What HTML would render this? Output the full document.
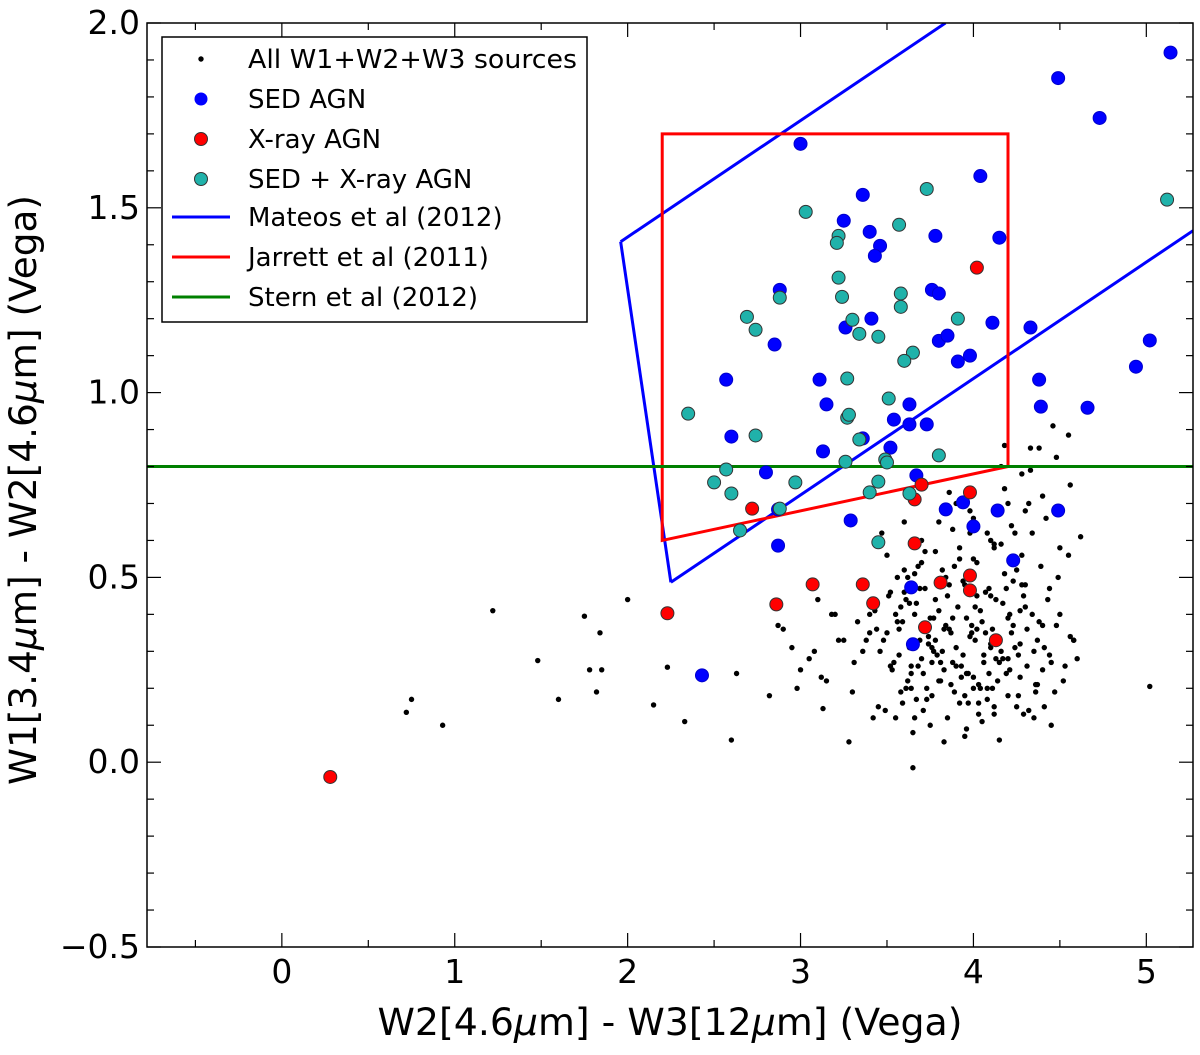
<!DOCTYPE html>
<html><head><meta charset="utf-8"><style>
body{margin:0;background:#fff;}
svg text{font-family:"DejaVu Sans","Liberation Sans",sans-serif;}
</style></head><body>
<svg id="chart" width="1200" height="1050" viewBox="0 0 1200 1050"></svg>
<script>
const allX=[1.22,1.75,1.84,2.0,1.48,1.78,1.85,1.82,1.6,0.75,0.72,0.93,2.15,2.33,2.23,2.6,2.63,2.82,3.13,3.28,3.42,3.65,3.83,5.02,4.55,4.48,4.62,4.46,4.18,4.33,
4.02,4.05,4.1,4.15,4.22,4.3,4.35,4.4,4.25,4.12,3.98,3.92,3.86,3.8,3.74,3.7,3.62,3.58,3.52,3.48,3.55,3.6,3.66,3.72,3.78,3.84,3.9,3.96,4.0,4.06,
4.11,4.17,4.23,4.28,4.34,4.39,4.44,4.5,4.56,4.6,4.52,4.47,4.41,4.36,4.31,4.27,4.2,4.14,4.08,4.03,3.97,3.93,3.88,3.82,3.76,3.71,3.66,3.61,3.57,3.5,
3.46,3.53,3.59,3.64,3.69,3.75,3.81,3.87,3.94,3.99,4.04,4.09,4.16,4.21,4.26,4.32,4.38,4.43,4.49,4.55,4.58,4.45,4.37,4.29,4.19,4.13,4.07,4.01,3.95,3.89,
3.83,3.77,3.73,3.67,3.63,3.56,3.51,3.44,3.4,3.38,3.6,3.7,3.8,3.9,4.0,4.1,4.2,4.3,4.4,4.5,3.65,3.75,3.85,3.95,4.05,4.15,4.25,4.35,4.45,3.68,
3.78,3.88,3.98,4.08,4.18,4.28,4.38,3.72,3.82,3.92,4.02,4.12,4.22,4.32,3.33,3.25,3.2,3.1,3.05,2.95,2.9,3.0,3.15,3.3,3.45,3.55,3.9,4.0,4.1,4.27,
3.96,4.07,4.24,4.42,4.56,4.33,4.16,3.86,3.62,3.5,3.47,3.98,4.2,4.4,3.58,3.68,3.88,4.03,4.13,3.76,
3.54,3.63,3.71,3.79,3.87,3.93,4.01,4.09,4.17,4.24,4.31,4.37,3.57,3.66,3.74,3.83,3.91,3.99,4.06,4.14,4.21,4.29,3.61,3.69,3.77,3.85,3.94,4.02,4.1,4.18,
4.26,4.34,3.64,3.73,3.81,3.89,3.97,4.04,4.12,4.2,3.52,3.6,3.78,3.86,3.95,4.03,4.11,4.19,4.27,4.36,4.44,4.53,3.7,3.84,4.0,4.16,4.3,3.49,3.59,3.67,
3.76,3.92,4.08,4.23,4.41,4.48,4.58,3.56,3.64,3.8,3.96,4.12,4.28,3.43,3.36,3.31,3.22,3.18,3.08,2.98,2.87,3.4,3.12];
const allY=[0.41,0.395,0.35,0.44,0.275,0.25,0.25,0.19,0.17,0.17,0.135,0.10,0.155,0.11,0.257,0.06,0.24,0.18,0.145,0.055,0.12,-0.015,0.055,0.205,0.885,0.825,0.61,0.91,0.857,0.79,
0.45,0.38,0.31,0.27,0.35,0.42,0.3,0.25,0.52,0.58,0.62,0.55,0.48,0.41,0.34,0.28,0.22,0.19,0.26,0.33,0.4,0.46,0.51,0.57,0.44,0.37,0.31,0.24,0.2,0.29,
0.36,0.43,0.49,0.56,0.62,0.53,0.47,0.4,0.34,0.28,0.22,0.19,0.15,0.21,0.26,0.32,0.39,0.22,0.17,0.13,0.16,0.23,0.27,0.3,0.18,0.14,0.12,0.2,0.29,0.35,
0.3,0.25,0.16,0.24,0.33,0.39,0.27,0.21,0.29,0.35,0.41,0.47,0.3,0.25,0.18,0.14,0.38,0.44,0.5,0.56,0.33,0.27,0.21,0.13,0.24,0.28,0.35,0.42,0.48,0.53,
0.36,0.3,0.2,0.17,0.43,0.38,0.45,0.36,0.4,0.33,0.65,0.6,0.65,0.7,0.66,0.6,0.7,0.68,0.72,0.58,0.08,0.1,0.12,0.07,0.11,0.06,0.15,0.12,0.1,0.53,
0.57,0.63,0.68,0.62,0.74,0.78,0.85,0.47,0.52,0.58,0.54,0.59,0.64,0.7,0.38,0.33,0.4,0.44,0.28,0.31,0.36,0.25,0.22,0.19,0.15,0.12,0.26,0.23,0.32,0.41,
0.39,0.46,0.62,0.66,0.75,0.85,0.8,0.73,0.5,0.56,0.62,0.34,0.28,0.37,0.42,0.26,0.39,0.21,0.44,0.31,
0.27,0.31,0.24,0.29,0.35,0.26,0.33,0.24,0.28,0.31,0.36,0.33,0.36,0.4,0.32,0.25,0.42,0.37,0.27,0.34,0.4,0.45,0.44,0.47,0.39,0.45,0.49,0.36,0.45,0.51,
0.29,0.4,0.2,0.17,0.22,0.19,0.24,0.2,0.15,0.18,0.46,0.52,0.33,0.36,0.18,0.16,0.2,0.47,0.23,0.19,0.29,0.26,0.54,0.5,0.55,0.59,0.48,0.14,0.38,0.43,
0.27,0.16,0.2,0.37,0.31,0.37,0.33,0.5,0.26,0.22,0.09,0.13,0.48,0.41,0.3,0.27,0.33,0.4,0.3,0.2,0.37,0.35,0.23,0.5];
const sedX=[3.00,4.49,4.73,4.04,3.36,3.25,3.40,3.46,3.43,3.78,4.15,2.88,3.76,3.80,3.26,4.11,3.41,2.85,3.80,3.98,3.85,4.33,2.57,3.11,3.15,3.63,4.38,4.39,3.91,4.94,5.02,4.66,2.60,3.36,3.54,3.63,3.73,3.13,3.52,2.80,3.67,3.84,3.94,4.00,4.14,4.49,2.87,3.29,2.87,4.23,3.64,3.65,2.43,5.14];
const sedY=[1.673,1.851,1.743,1.586,1.535,1.465,1.435,1.397,1.370,1.424,1.419,1.278,1.278,1.268,1.176,1.189,1.20,1.13,1.14,1.10,1.154,1.176,1.035,1.035,0.968,0.968,1.035,0.962,1.084,1.070,1.141,0.959,0.881,0.876,0.927,0.914,0.914,0.841,0.851,0.784,0.776,0.684,0.703,0.638,0.681,0.681,0.684,0.654,0.586,0.546,0.473,0.319,0.235,1.92];
const xrX=[0.28,2.23,2.86,3.07,3.36,3.42,3.72,3.81,3.98,3.98,4.13,3.66,3.70,3.66,3.98,2.72,4.02];
const xrY=[-0.04,0.403,0.427,0.481,0.481,0.43,0.365,0.486,0.505,0.465,0.33,0.592,0.751,0.711,0.730,0.686,1.338];
const bothX=[5.12,3.73,3.03,3.22,3.21,3.57,3.22,3.24,2.88,2.69,2.74,3.58,3.58,3.30,3.34,3.45,3.65,3.60,3.91,3.27,2.35,3.27,3.28,3.51,2.74,3.34,3.49,3.50,3.26,3.80,2.57,2.50,2.60,2.97,3.45,3.40,3.63,2.65,2.88,3.45];
const bothY=[1.522,1.551,1.489,1.424,1.405,1.454,1.311,1.259,1.257,1.205,1.170,1.268,1.232,1.197,1.159,1.151,1.108,1.086,1.20,1.038,0.943,0.932,0.94,0.984,0.884,0.873,0.819,0.811,0.813,0.830,0.792,0.757,0.727,0.757,0.759,0.73,0.727,0.627,0.686,0.595];
const xTicks=[0,1,2,3,4,5], xTickLabels=["0","1","2","3","4","5"];
const yTicks=[-0.5,0,0.5,1,1.5,2], yTickLabels=["\u22120.5","0.0","0.5","1.0","1.5","2.0"];

const L=147,R=1193,T=23,B=947, XMIN=-0.78, XMAX=5.27, YMIN=-0.5, YMAX=2.0;
const sx=v=>L+(v-XMIN)/(XMAX-XMIN)*(R-L);
const sy=v=>B-(v-YMIN)/(YMAX-YMIN)*(B-T);
const svg=document.getElementById('chart');
const NS='http://www.w3.org/2000/svg';
function mk(tag,attrs,parent){const e=document.createElementNS(NS,tag);for(const k in attrs)e.setAttribute(k,attrs[k]);(parent||svg).appendChild(e);return e;}

const defs=mk('defs',{});const cp=mk('clipPath',{id:'clip'},defs);mk('rect',{x:L,y:T,width:R-L,height:B-T},cp);
const plot=mk('g',{'clip-path':'url(#clip)'});



const gAll=mk('g',{},plot);


allX.forEach((x,i)=>{const c=mk('circle',{cx:sx(x),cy:sy(allY[i]),r:2.7,fill:'#000'},gAll);

});

function mline(x1,y1,x2,y2,col,name,g){const l=mk('line',{x1:sx(x1),y1:sy(y1),x2:sx(x2),y2:sy(y2),stroke:col,'stroke-width':3},g||plot);

return l;}
const mx0=(7.624-0.791)/(3.172+0.315), mx1=(7.624+0.222)/(3.172+0.315);
mline(mx0,0.315*mx0+0.791,(2.0-0.791)/0.315,2.0,'#0000ff','mateos-upper-line');
mline(mx1,0.315*mx1-0.222,XMAX,0.315*XMAX-0.222,'#0000ff','mateos-lower-line');
mline(mx0,0.315*mx0+0.791,mx1,0.315*mx1-0.222,'#0000ff','mateos-left-line');
const jp=mk('polygon',{points:[[2.2,1.7],[4.2,1.7],[4.2,0.8],[2.2,0.6]].map(p=>sx(p[0])+','+sy(p[1])).join(' '),fill:'none',stroke:'#ff0000','stroke-width':3},plot);


mline(XMIN,0.8,XMAX,0.8,'#008000','stern-line');

function series(xs,ys,fill,stroke,name){const g=mk('g',{},plot);


xs.forEach((x,i)=>{const c=mk('circle',{cx:sx(x),cy:sy(ys[i]),r:6.5,fill:fill,stroke:stroke,'stroke-width':1},g);

});}
series(sedX,sedY,'#0000ff','#0000cc','sed-agn');
series(xrX,xrY,'#ff0000','#333','xray-agn');
series(bothX,bothY,'#20b2aa','#333','sed-xray-agn');

const fr=mk('rect',{x:L,y:T,width:R-L,height:B-T,fill:'none',stroke:'#000','stroke-width':1.5});



const tg=mk('g',{stroke:'#000','stroke-width':1.2});


for(let v=-0.5;v<=5.01;v+=0.5){const X=sx(v),maj=Math.abs(v-Math.round(v))<1e-6,len=maj?14:7;
mk('line',{x1:X,y1:B,x2:X,y2:B-len},tg);mk('line',{x1:X,y1:T,x2:X,y2:T+len},tg);}
for(let k=-5;k<=20;k++){const v=k/10,Y=sy(v),maj=k%5===0,len=maj?14:7;
mk('line',{x1:L,y1:Y,x2:L+len,y2:Y},tg);mk('line',{x1:R,y1:Y,x2:R-len,y2:Y},tg);}
xTicks.forEach((v,i)=>{const t=mk('text',{x:sx(v),y:983,'font-size':33,'text-anchor':'middle'});t.textContent=xTickLabels[i];

});
yTicks.forEach((v,i)=>{const t=mk('text',{x:140,y:sy(v)+11,'font-size':33,'text-anchor':'end'});t.textContent=yTickLabels[i];

});
</script>
<svg style="position:absolute;left:0;top:0" width="1200" height="1050">
<text x="670" y="1035" font-size="37" text-anchor="middle" textLength="585" lengthAdjust="spacingAndGlyphs" font-family="DejaVu Sans, Liberation Sans, sans-serif">W2[4.6<tspan font-style="italic">μ</tspan>m] - W3[12<tspan font-style="italic">μ</tspan>m] (Vega)</text>
<text x="0" y="0" font-size="37" text-anchor="middle" textLength="590" lengthAdjust="spacingAndGlyphs" transform="translate(36,490) rotate(-90)" font-family="DejaVu Sans, Liberation Sans, sans-serif">W1[3.4<tspan font-style="italic">μ</tspan>m] - W2[4.6<tspan font-style="italic">μ</tspan>m] (Vega)</text>
<g font-family="DejaVu Sans, Liberation Sans, sans-serif" font-size="26">
<rect x="162" y="37" width="425" height="285" fill="#fff" stroke="#000" stroke-width="1.5"/>
<circle cx="201" cy="59" r="2.7" fill="#000"/><text x="248" y="68" textLength="329" lengthAdjust="spacingAndGlyphs">All W1+W2+W3 sources</text>
<circle cx="201" cy="99" r="6.5" fill="#0000ff"/><text x="248" y="108">SED AGN</text>
<circle cx="201" cy="139" r="6.5" fill="#ff0000" stroke="#333"/><text x="248" y="148">X-ray AGN</text>
<circle cx="201" cy="179" r="6.5" fill="#20b2aa" stroke="#333"/><text x="248" y="188">SED + X-ray AGN</text>
<line x1="172" y1="217" x2="230" y2="217" stroke="#0000ff" stroke-width="3"/><text x="248" y="226">Mateos et al (2012)</text>
<line x1="172" y1="257" x2="230" y2="257" stroke="#ff0000" stroke-width="3"/><text x="248" y="266">Jarrett et al (2011)</text>
<line x1="172" y1="297" x2="230" y2="297" stroke="#008000" stroke-width="3"/><text x="248" y="306">Stern et al (2012)</text>
</g>
</svg>
</body></html>
